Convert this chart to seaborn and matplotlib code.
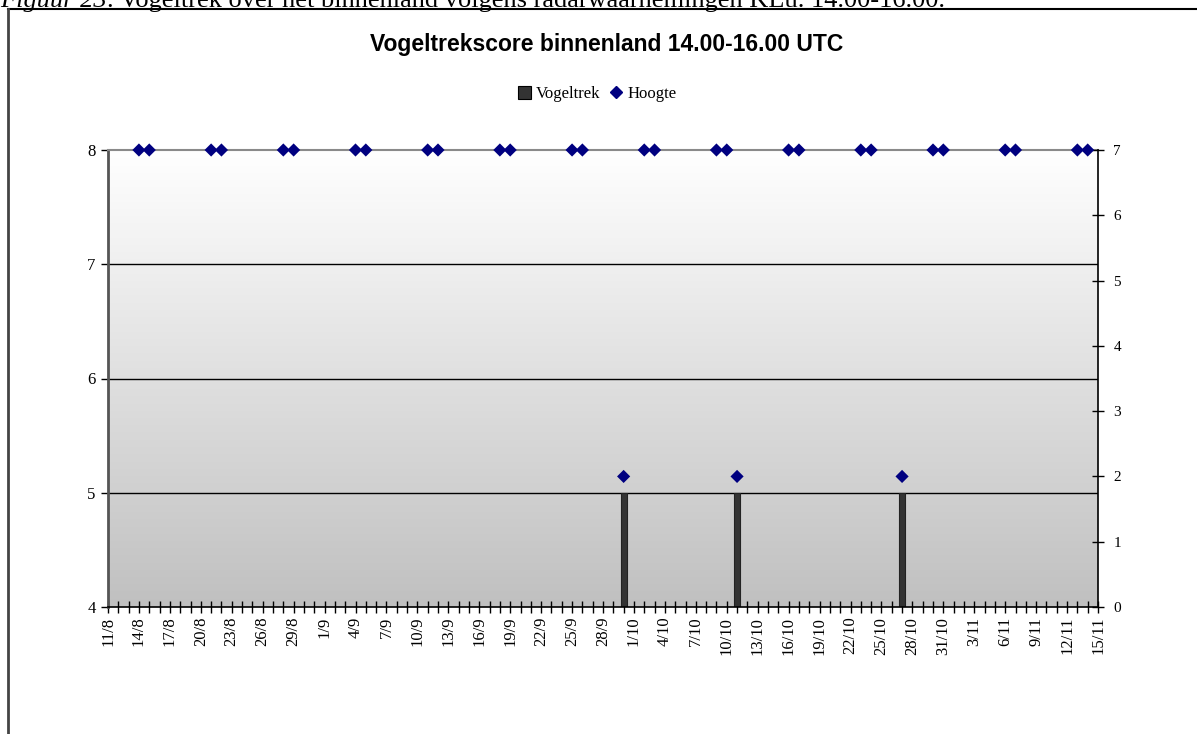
import numpy as np
import pandas as pd
import matplotlib.pyplot as plt
from matplotlib.colors import LinearSegmentedColormap
from matplotlib.lines import Line2D
from matplotlib.patches import Patch
import seaborn as sns

# --- data ---
days = pd.date_range("2004-08-11", "2004-11-15", freq="D")
day_labels = [f"{d.day}/{d.month}" for d in days]

vogeltrek_dates = ["30/9", "11/10", "27/10"]
vogeltrek_score = [5, 5, 5]

hoogte_dates = ["14/8", "15/8", "21/8", "22/8", "28/8", "29/8", "4/9", "5/9",
                "11/9", "12/9", "18/9", "19/9", "25/9", "26/9", "30/9",
                "2/10", "3/10", "9/10", "10/10", "11/10", "16/10", "17/10",
                "23/10", "24/10", "27/10", "30/10", "31/10", "6/11", "7/11",
                "13/11", "14/11"]
hoogte_values = [7, 7, 7, 7, 7, 7, 7, 7,
                 7, 7, 7, 7, 7, 7, 2,
                 7, 7, 7, 7, 2, 7, 7,
                 7, 7, 2, 7, 7, 7, 7,
                 7, 7]

left_ticks = [4, 5, 6, 7, 8]
right_ticks = [0, 1, 2, 3, 4, 5, 6, 7]

plt.rcParams["font.family"] = ["Liberation Serif", "DejaVu Serif"]

pos = {lab: i for i, lab in enumerate(day_labels)}
vt = pd.DataFrame({"x": [pos[d] for d in vogeltrek_dates], "score": vogeltrek_score})
hg = pd.DataFrame({"x": [pos[d] for d in hoogte_dates], "hoogte": hoogte_values})
n_days = len(day_labels) - 1

W, H = 1197, 734
fig = plt.figure(figsize=(W / 100, H / 100), dpi=100)
ax = fig.add_axes([108 / W, 127 / H, 990 / W, 457 / H])

# gradient plot area
grad = LinearSegmentedColormap.from_list("grad", ["#ffffff", "#c0c0c0"])
ax.imshow(np.linspace(0, 1, 256).reshape(-1, 1), cmap=grad, aspect="auto",
          extent=[0, n_days, 4, 8], zorder=0)
for v in [5, 6, 7]:
    ax.axhline(v, color="black", lw=1, zorder=1)

min_gap = np.diff(np.sort(vt["x"].unique())).min()
sns.barplot(data=vt, x="x", y="score", native_scale=True, width=0.6 / min_gap,
            color="#333333", edgecolor="#222222", linewidth=0.8,
            errorbar=None, ax=ax, zorder=2)

ax.set_xlim(0, n_days)
ax.set_ylim(4, 8)
ax.set_yticks(left_ticks)
ax.set_yticklabels([str(v) for v in left_ticks], fontsize=12)
ax.set_xticks(np.arange(len(day_labels)))
ax.set_xticklabels([lab if i % 3 == 0 else "" for i, lab in enumerate(day_labels)],
                   rotation=90, fontsize=12, va="top")
ax.tick_params(axis="x", direction="inout", length=8, width=1, pad=3)
ax.tick_params(axis="y", direction="out", length=5, width=1, pad=4)
ax.set_xlabel("")
ax.set_ylabel("")
ax.spines["left"].set_color("#555555")
ax.spines["left"].set_linewidth(2)
ax.spines["bottom"].set_color("black")
ax.spines["bottom"].set_linewidth(1.2)
ax.spines["top"].set_color("#8a8a8a")
ax.spines["top"].set_linewidth(1.5)
ax.spines["right"].set_visible(False)

ax2 = ax.twinx()
sns.scatterplot(data=hg, x="x", y="hoogte", marker="D", s=45, color="#000080",
                edgecolor="none", ax=ax2, clip_on=False, zorder=5)
ax2.set_xlim(0, n_days)
ax2.set_ylim(0, 7)
ax2.set_yticks(right_ticks)
ax2.set_yticklabels([str(v) for v in right_ticks], fontsize=11)
ax2.tick_params(axis="y", direction="inout", length=8, width=1, pad=7)
ax2.set_ylabel("")
ax2.set_xlabel("")
for s in ["top", "left", "bottom"]:
    ax2.spines[s].set_visible(False)
ax2.spines["right"].set_color("black")
ax2.spines["right"].set_linewidth(1.2)

fig.text(607 / W, 1 - 44 / H, "Vogeltrekscore binnenland 14.00-16.00 UTC",
         ha="center", va="center", fontsize=16.5, fontweight="bold",
         family="Liberation Sans")

handles = [Patch(facecolor="#333333", edgecolor="black", linewidth=0.8),
           Line2D([], [], marker="D", color="#000080", linestyle="None", markersize=6)]
fig.legend(handles, ["Vogeltrek", "Hoogte"], loc="center",
           bbox_to_anchor=(597 / W, 1 - 94 / H), ncol=2, frameon=False,
           fontsize=12, handlelength=0.8, handleheight=0.8, handletextpad=0.3,
           columnspacing=0.5)

# caption cut off at the top of the page
renderer = fig.canvas.get_renderer()
cap1 = fig.text(0, 1 - 7 / H, "Figuur 23", style="italic", fontsize=19,
                va="baseline", ha="left")
x1 = cap1.get_window_extent(renderer).x1 / W
fig.text(x1, 1 - 7 / H, ". Vogeltrek over het binnenland volgens radarwaarnemingen KLu. 14.00-16.00.",
         fontsize=19, va="baseline", ha="left")

# chart frame
fig.add_artist(Line2D([8 / W, 1], [1 - 9 / H, 1 - 9 / H], color="black", lw=1.5,
                      transform=fig.transFigure))
fig.add_artist(Line2D([8 / W, 8 / W], [0, 1 - 9 / H], color="#444444", lw=2,
                      transform=fig.transFigure))

fig.savefig("out.png", dpi=100)
